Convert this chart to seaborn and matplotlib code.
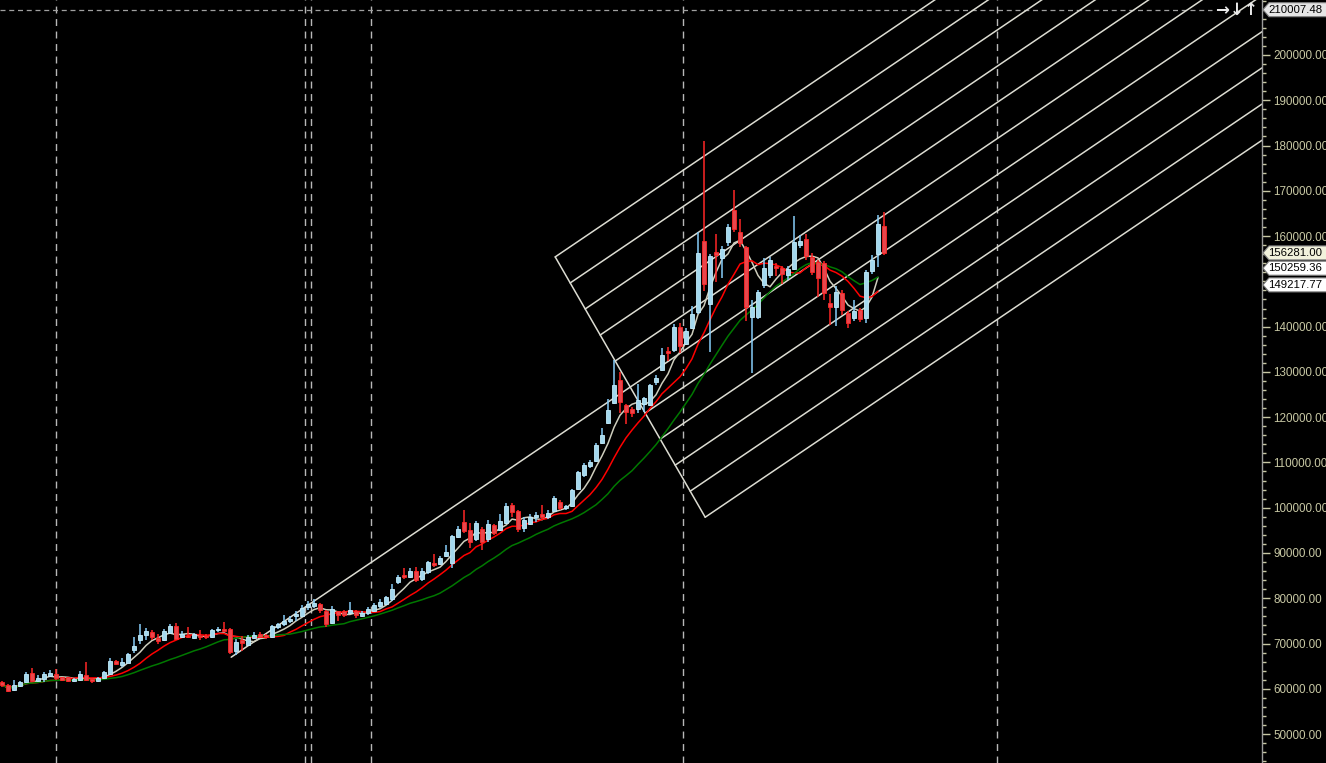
import matplotlib
matplotlib.use("Agg")
import matplotlib.pyplot as plt
from matplotlib.patches import Polygon
from matplotlib.transforms import IdentityTransform
from matplotlib.ticker import MultipleLocator, FuncFormatter
import numpy as np
import pandas as pd
import seaborn as sns

# daily candles, prices in thousands
opens = [61.6, 60.8, 59.7, 60.7, 61.6, 63.4, 61.7, 62.1, 62.9, 63.2,
         62.5, 62.5, 61.7, 61.9, 63.0, 62.1, 61.8, 62.4, 63.2, 66.1,
         65.2, 65.8, 68.6, 70.8, 71.9, 72.5, 71.3, 70.8, 72.4, 73.9,
         71.5, 71.7, 71.2, 71.7, 71.7, 71.5, 72.9, 73.3, 73.3, 68.4,
         70.7, 69.7, 71.3, 72.0, 71.8, 71.5, 73.7, 74.3, 75.0, 76.0,
         76.0, 78.0, 78.3, 78.7, 77.2, 74.6, 77.1, 77.1, 76.8, 77.1,
         76.1, 76.7, 77.2, 78.2, 78.7, 79.8, 83.6, 85.1, 84.8, 86.1,
         84.2, 85.7, 87.7, 87.6, 89.3, 87.8, 93.6, 96.8, 95.0, 93.0,
         95.4, 93.0, 96.2, 95.1, 96.7, 100.6, 99.3, 95.6, 96.5, 98.0,
         98.5, 98.0, 99.3, 101.3, 99.9, 100.4, 104.1, 107.2, 109.3, 110.4,
         114.4, 118.8, 123.2, 128.1, 122.7, 121.7, 121.7, 122.9, 122.7, 127.8,
         130.4, 134.6, 134.8, 139.9, 136.2, 139.8, 143.3, 158.9, 145.1, 156.4,
         155.1, 158.6, 165.8, 161.0, 157.6, 142.2, 142.2, 149.2, 151.4, 153.4,
         153.0, 151.4, 152.7, 158.0, 159.3, 155.4, 154.3, 154.1, 145.3, 144.3,
         147.4, 143.0, 142.0, 143.7, 142.0, 152.2, 156.0, 162.2]
highs = [61.8, 61.0, 61.9, 61.7, 63.7, 64.6, 63.0, 63.6, 64.1, 64.4,
         62.7, 62.7, 62.3, 64.0, 66.0, 62.3, 62.6, 64.0, 66.8, 66.3,
         66.9, 67.8, 71.5, 74.3, 73.5, 73.0, 72.0, 73.2, 74.2, 74.6,
         72.7, 73.7, 72.3, 73.0, 72.0, 73.2, 73.6, 74.8, 73.5, 71.1,
         71.6, 71.8, 72.6, 72.6, 72.1, 74.0, 74.5, 76.3, 76.0, 77.2,
         78.5, 79.3, 79.8, 79.0, 77.3, 78.3, 77.2, 77.3, 79.2, 77.4,
         77.2, 78.0, 78.9, 79.8, 80.5, 83.2, 85.2, 86.7, 86.6, 86.8,
         86.6, 88.3, 89.8, 89.3, 91.8, 94.0, 96.0, 99.5, 96.6, 97.1,
         95.8, 97.2, 96.5, 98.7, 101.0, 101.1, 99.5, 98.0, 98.5, 99.0,
         100.7, 99.4, 102.6, 101.6, 100.7, 104.1, 108.2, 109.8, 110.6, 114.3,
         117.5, 124.0, 132.6, 130.0, 122.9, 122.3, 127.3, 124.5, 127.3, 129.3,
         135.2, 135.4, 140.5, 140.7, 139.8, 144.5, 160.8, 181.0, 156.0, 160.5,
         157.7, 162.7, 170.2, 163.7, 157.9, 145.9, 148.1, 155.1, 155.4, 154.0,
         153.3, 153.3, 164.4, 160.3, 160.4, 156.2, 154.8, 154.6, 147.3, 148.9,
         148.1, 143.5, 145.9, 144.1, 152.5, 155.8, 164.6, 165.3]
lows = [60.5, 59.3, 59.5, 60.3, 61.2, 61.5, 61.4, 61.6, 62.5, 62.0,
        61.7, 61.5, 61.5, 61.7, 61.7, 61.3, 61.6, 62.2, 63.0, 65.2,
        64.9, 65.6, 68.0, 70.0, 70.7, 70.7, 69.8, 70.6, 72.1, 70.8,
        71.3, 71.3, 70.9, 70.8, 71.0, 71.3, 72.6, 72.5, 67.6, 67.4,
        68.3, 69.5, 71.0, 71.2, 71.0, 71.2, 73.1, 73.8, 74.6, 74.9,
        75.8, 77.5, 77.8, 76.8, 73.6, 74.4, 75.0, 75.8, 76.5, 75.6,
        75.9, 76.4, 76.9, 77.8, 78.4, 79.5, 83.1, 84.3, 84.4, 83.6,
        83.9, 85.4, 87.0, 87.3, 89.0, 86.7, 93.3, 94.5, 91.0, 92.6,
        90.7, 92.5, 94.0, 94.8, 96.3, 98.0, 94.7, 94.7, 96.2, 96.8,
        97.4, 97.6, 99.0, 99.4, 99.5, 100.1, 103.8, 106.8, 108.8, 110.0,
        114.0, 118.4, 122.8, 120.9, 118.5, 120.0, 121.0, 121.2, 122.4, 127.0,
        130.2, 132.3, 134.3, 134.2, 135.9, 139.4, 142.8, 147.8, 134.5, 149.9,
        150.8, 157.9, 160.8, 157.6, 141.3, 129.7, 141.7, 148.5, 150.7, 151.2,
        149.4, 150.3, 152.4, 157.4, 154.7, 151.3, 146.5, 145.9, 140.4, 140.2,
        142.6, 139.8, 141.2, 141.1, 140.8, 151.7, 153.2, 155.9]
closes = [60.9, 59.5, 60.8, 61.4, 63.2, 61.7, 62.3, 63.2, 63.4, 62.4,
          61.9, 61.8, 62.1, 63.3, 61.9, 61.7, 62.4, 63.7, 66.1, 65.4,
          66.0, 67.6, 69.5, 71.9, 72.8, 71.5, 70.6, 72.8, 73.8, 71.0,
          72.0, 71.4, 72.1, 71.4, 71.4, 72.9, 73.3, 72.8, 68.1, 70.4,
          70.2, 71.4, 71.9, 71.5, 71.4, 73.8, 74.2, 75.0, 75.4, 76.5,
          77.9, 78.7, 79.0, 77.4, 74.3, 77.7, 76.4, 76.3, 77.4, 76.3,
          76.8, 77.6, 78.5, 79.2, 80.2, 82.1, 84.7, 84.6, 86.1, 84.0,
          86.1, 88.1, 87.3, 88.8, 90.3, 93.75, 95.2, 94.8, 92.4, 96.7,
          92.5, 96.4, 94.5, 97.0, 100.4, 99.1, 95.2, 97.2, 97.9, 98.4,
          98.0, 98.9, 102.1, 100.0, 100.4, 103.8, 107.8, 109.4, 110.0, 113.9,
          116.1, 121.6, 127.1, 123.4, 121.2, 121.0, 123.8, 124.2, 127.1, 128.6,
          133.7, 134.1, 139.9, 135.7, 139.0, 142.7, 156.2, 149.5, 155.6, 155.9,
          157.2, 162.1, 161.6, 158.5, 144.4, 144.4, 147.6, 152.9, 154.7, 152.9,
          151.6, 152.7, 158.6, 158.9, 155.6, 152.1, 150.7, 147.4, 144.3, 147.6,
          143.7, 140.9, 143.4, 141.6, 152.0, 154.7, 162.6, 156.281]

ma_periods = [5, 10, 20]
ma_colors = ["#cdcdbd", "#ff0000", "#007800"]

# vertical separators (bar index) and price markers on the scale
separators = [9.0, 50.5, 51.5, 61.5, 113.5, 165.8]
top_level = 210007.48
scale_labels = [("150259.36", 152.9), ("149217.77", 149.22)]
last_label = ("156281.00", 156.281)
hidden_tick = 150000  # covered by the price markers

# channel drawing: first/last anchor on the cross line, slope per bar
chan_top = (92.2, 155.4)
chan_bottom = (117.2, 97.9)
chan_slope = 0.8973
chan_levels = 11
base_level = 5
base_start_x = 38.2

W, H = 1326, 763
fig = plt.figure(figsize=(W / 100, H / 100), dpi=100)
sns.set_theme(style="dark")
plt.rcParams["font.family"] = ["Liberation Sans", "DejaVu Sans"]
fig.patch.set_facecolor("black")
ax = fig.add_axes([0, 0, 1262 / W, 1])
ax.set_facecolor("black")

df = pd.DataFrame({"open": opens, "high": highs, "low": lows, "close": closes}) * 1000
df["idx"] = np.arange(len(df))
up = df["close"] >= df["open"]

x_right = 210.0
ax.set_xlim(-1 / 3, x_right)
ax.set_ylim(43606, 212149)

# separators and top level line
for s in separators:
    ax.axvline(s, color="#b8b8b8", lw=1, ls=(0, (5, 4)), zorder=1)
ax.axhline(top_level, xmax=1212 / 1262, color="#a0a0a0", lw=0.9, ls=(0, (4, 3)), zorder=1)

# channel
tx, ty = chan_top
bx, by = chan_bottom
for k in range(chan_levels):
    sx = tx + (bx - tx) * k / (chan_levels - 1)
    sy = ty + (by - ty) * k / (chan_levels - 1)
    if k == base_level:
        sy = sy + chan_slope * (base_start_x - sx)
        sx = base_start_x
    ey = sy + chan_slope * (x_right - sx)
    ax.plot([sx, x_right], [sy * 1000, ey * 1000], color="#dcdcd2", lw=1.1, zorder=2)
ax.plot([tx, bx], [ty * 1000, by * 1000], color="#dcdcd2", lw=1.1, zorder=2)

# moving averages (last bar not yet drawn on the source chart)
ma_df = pd.DataFrame({"idx": df["idx"]})
for p, c in zip(ma_periods, ma_colors):
    ma_df[f"ma{p}"] = df["close"].rolling(p, min_periods=1).mean()
    sns.lineplot(data=ma_df.iloc[:-1], x="idx", y=f"ma{p}", ax=ax, color=c,
                 lw=1.1, zorder=3)

# candles
bull_fill, bull_edge = "#a4d8ee", "#87cefa"
bear_fill, bear_edge = "#e8474d", "#ff2626"
ax.vlines(df["idx"][up], df["low"][up], df["high"][up], color=bull_edge, lw=1.1, zorder=4)
ax.vlines(df["idx"][~up], df["low"][~up], df["high"][~up], color=bear_edge, lw=1.1, zorder=4)
body_lo = df[["open", "close"]].min(axis=1)
body_h = (df["close"] - df["open"]).abs().clip(lower=300)
ax.bar(df["idx"][up], body_h[up], bottom=body_lo[up], width=0.8,
       color=bull_fill, edgecolor="#c4ecfa", lw=0.6, zorder=5)
ax.bar(df["idx"][~up], body_h[~up], bottom=body_lo[~up], width=0.8,
       color=bear_fill, edgecolor=bear_edge, lw=0.6, zorder=5)

# price scale on the right
for sp in ["left", "top", "bottom"]:
    ax.spines[sp].set_visible(False)
ax.spines["right"].set_color("#9a9a9a")
ax.spines["right"].set_linewidth(1)
ax.grid(False)
ax.set_xticks([])
ax.yaxis.tick_right()
ax.set_yticks(np.arange(50000, 200001, 10000))
ax.yaxis.set_minor_locator(MultipleLocator(2000))
ax.yaxis.set_major_formatter(
    FuncFormatter(lambda v, pos: "" if abs(v - hidden_tick) < 1 else f"{v:.2f}"))
ax.tick_params(axis="y", which="major", direction="out", length=6, width=1,
               colors="#c8c8a4", labelsize=8.4, pad=2)
ax.tick_params(axis="y", which="minor", direction="out", length=3, width=1,
               colors="#c8c8a4")
ax.set_xlabel("")
ax.set_ylabel("")


def scale_tag(text, price, face, edge="#808080"):
    _, yd = ax.transData.transform((0, price))
    x0, x1, h = 1263, 1340, 14
    pts = [(x0, yd), (x0 + 6, yd + h / 2), (x1, yd + h / 2), (x1, yd - h / 2), (x0 + 6, yd - h / 2)]
    fig.add_artist(Polygon(pts, closed=True, facecolor=face, edgecolor=edge, lw=0.8,
                           transform=IdentityTransform(), zorder=10))
    fig.text((x0 + 5) / W, yd / H, text, color="black", fontsize=8.2, va="center",
             ha="left", zorder=11)


scale_tag(f"{top_level:.2f}", top_level, "#e6e6e6")
for txt, p in scale_labels:
    scale_tag(txt, p * 1000, "#ffffff")
scale_tag(last_label[0], last_label[1] * 1000, "#f2f2dc")

# chart navigation arrows at the top right
for xa, ch in zip([1222, 1237, 1251], ["\u2192", "\u2193", "\u2191"]):
    fig.text(xa / W, 1 - 10 / H, ch, color="#e8e8e8", fontsize=12, fontweight="bold",
             ha="center", va="center", family="DejaVu Sans")

fig.savefig("out.png", dpi=100, facecolor="black")
